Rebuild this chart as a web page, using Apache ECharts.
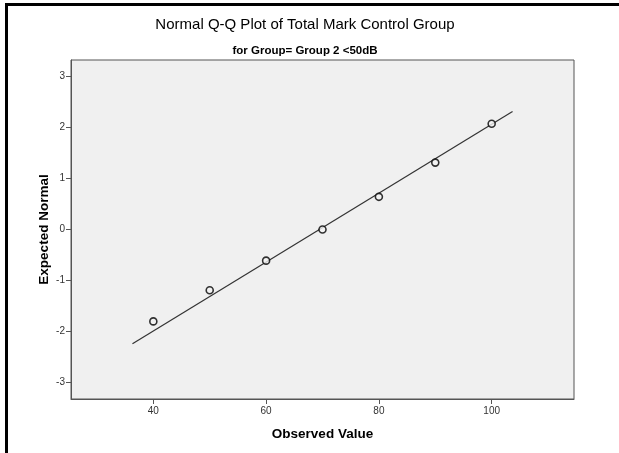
<!DOCTYPE html>
<html>
<head>
<meta charset="utf-8">
<script src="https://cdn.jsdelivr.net/npm/echarts@6/dist/echarts.min.js"></script>
<style>
html,body{margin:0;padding:0;background:#fff;}
#chart{width:619px;height:453px;}
</style>
</head>
<body>
<div id="chart"></div>
<script>
const observed = [40, 50, 60, 70, 80, 90, 100];
const expected = [-1.80, -1.19, -0.61, 0.00, 0.64, 1.31, 2.07];
const lineX = [36.3, 103.7];
const lineY = [-2.24, 2.31];
const xTicks = [40, 60, 80, 100];
const yTicks = [-3, -2, -1, 0, 1, 2, 3];
const titleText = 'Normal Q-Q Plot of Total Mark Control Group';
const subtitleText = 'for Group= Group 2 <50dB';

const chart = echarts.init(document.getElementById('chart'), null, {renderer: 'canvas'});
const font = 'Liberation Sans, Arial, sans-serif';
chart.setOption({
  animation: false,
  backgroundColor: '#fff',
  title: [
    {text: titleText, left: 300, top: 12, textAlign: 'center',
     textStyle: {fontFamily: font, fontSize: 15, fontWeight: 'normal', color: '#000'}},
    {text: subtitleText, left: 300, top: 40, textAlign: 'center',
     textStyle: {fontFamily: font, fontSize: 11.5, fontWeight: 'bold', color: '#000'}}
  ],
  graphic: [
    {type: 'rect', shape: {x: 5, y: 3, width: 614, height: 3}, style: {fill: '#000'}, z: 100},
    {type: 'rect', shape: {x: 5, y: 3, width: 3, height: 450}, style: {fill: '#000'}, z: 100}
  ],
  grid: {left: 71, top: 60, width: 503, height: 339, show: true,
         backgroundColor: '#f0f0f0', borderColor: '#555', borderWidth: 1},
  xAxis: {
    type: 'value', min: 25.4, max: 114.6,
    name: 'Observed Value', nameLocation: 'middle', nameGap: 28,
    nameTextStyle: {fontFamily: font, fontSize: 13.5, fontWeight: 'bold', color: '#000'},
    axisLine: {show: true, onZero: false, lineStyle: {color: '#555'}},
    axisTick: {show: true, length: 5, lineStyle: {color: '#555'}, customValues: xTicks},
    axisLabel: {fontFamily: font, fontSize: 10, color: '#333', margin: 7, customValues: xTicks},
    splitLine: {show: false}
  },
  yAxis: {
    type: 'value', min: -3.32, max: 3.32,
    name: 'Expected Normal', nameLocation: 'middle', nameGap: 20, nameMoveOverlap: false,
    nameTextStyle: {fontFamily: font, fontSize: 13.5, fontWeight: 'bold', color: '#000'},
    axisLine: {show: true, onZero: false, lineStyle: {color: '#555'}},
    axisTick: {show: true, length: 5, lineStyle: {color: '#555'}, customValues: yTicks},
    axisLabel: {fontFamily: font, fontSize: 10, color: '#333', margin: 6, customValues: yTicks},
    splitLine: {show: false}
  },
  series: [
    {type: 'line', data: lineX.map((x, i) => [x, lineY[i]]), symbol: 'none',
     lineStyle: {color: '#333', width: 1.2}, z: 2, silent: true},
    {type: 'scatter', data: observed.map((x, i) => [x, expected[i]]), symbol: 'circle', symbolSize: 7,
     itemStyle: {color: '#f4f4f4', borderColor: '#000', borderWidth: 1.6}, z: 3}
  ]
});
</script>
</body>
</html>
